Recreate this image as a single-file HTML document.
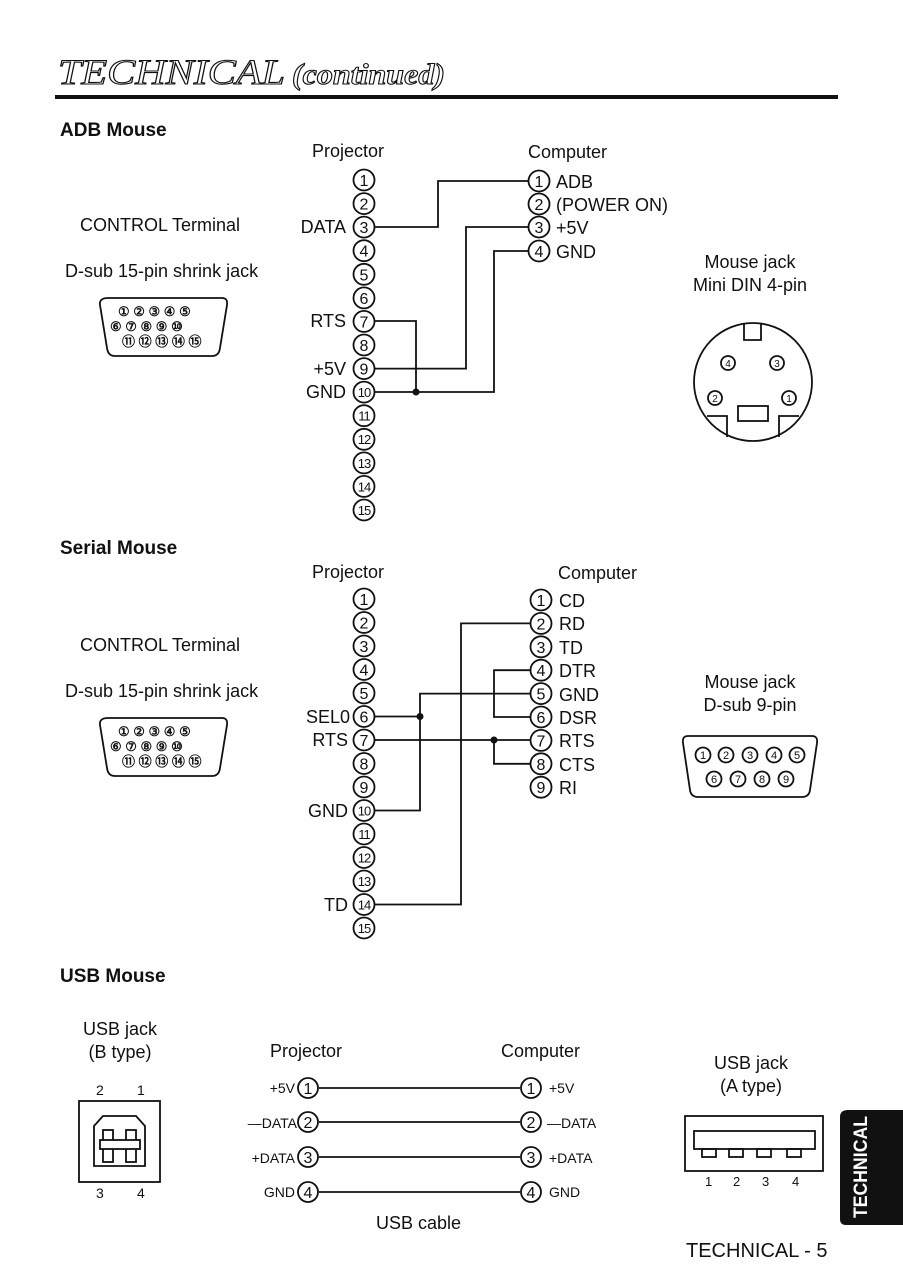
<!DOCTYPE html>
<html><head><meta charset="utf-8"><style>
html,body{margin:0;padding:0;background:#fff;}
svg{display:block;}
text{font-family:"Liberation Sans",sans-serif;fill:#111;}
.n{font-size:16px;text-anchor:middle;}
.n2{font-size:13px;text-anchor:middle;letter-spacing:-1px;}
.l{font-size:18px;}
.h{font-size:19px;font-weight:bold;}
.c{fill:#fff;stroke:#111;stroke-width:1.8;}
.w{fill:none;stroke:#111;stroke-width:1.8;}
.s{font-size:14px;}
.p{font-size:13px;font-weight:bold;}
</style></head><body>
<svg width="903" height="1280" viewBox="0 0 903 1280" xmlns="http://www.w3.org/2000/svg">
<text x="58" y="84" textLength="227" lengthAdjust="spacingAndGlyphs" style="font-family:'Liberation Serif',serif;font-style:italic;font-size:36px;fill:#fff;stroke:#111;stroke-width:1.1">TECHNICAL</text>
<text x="292" y="84" textLength="153" lengthAdjust="spacingAndGlyphs" style="font-family:'Liberation Serif',serif;font-style:italic;font-weight:bold;font-size:30px;fill:#fff;stroke:#111;stroke-width:1.1">(continued)</text>
<rect x="55" y="95" width="783" height="4" fill="#111"/>

<!-- ADB -->
<text class="h" x="60" y="136">ADB Mouse</text>
<text class="l" x="312" y="157">Projector</text>
<text class="l" x="528" y="158">Computer</text>
<text class="l" x="80" y="231">CONTROL Terminal</text>
<text class="l" x="65" y="277">D-sub 15-pin shrink jack</text>
<path class="w" d="M108,298 H222 Q228,298 227,305 L220,348 Q219,356 212,356 H115 Q108,356 107,348 L100,305 Q99,298 108,298 Z"/>
<g class="p">
<text x="118" y="316">① ② ③ ④ ⑤</text><text x="110" y="331">⑥ ⑦ ⑧ ⑨ ⑩</text><text x="122" y="346">⑪ ⑫ ⑬ ⑭ ⑮</text></g>

<g class="w">
<path d="M375,227 H438 V181 H528"/>
<path d="M375,368.6 H466 V227 H528"/>
<path d="M375,392 H494 V251 H528"/>
<path d="M375,321 H416 V392"/>
</g>
<circle cx="416" cy="392" r="3.5" fill="#111"/>
<g>
<circle class="c" cx="364" cy="180" r="10.5"/><text class="n" x="364" y="186">1</text>
<circle class="c" cx="364" cy="203.6" r="10.5"/><text class="n" x="364" y="209.6">2</text>
<circle class="c" cx="364" cy="227.1" r="10.5"/><text class="n" x="364" y="233.1">3</text>
<circle class="c" cx="364" cy="250.7" r="10.5"/><text class="n" x="364" y="256.7">4</text>
<circle class="c" cx="364" cy="274.3" r="10.5"/><text class="n" x="364" y="280.3">5</text>
<circle class="c" cx="364" cy="297.9" r="10.5"/><text class="n" x="364" y="303.9">6</text>
<circle class="c" cx="364" cy="321.4" r="10.5"/><text class="n" x="364" y="327.4">7</text>
<circle class="c" cx="364" cy="345" r="10.5"/><text class="n" x="364" y="351">8</text>
<circle class="c" cx="364" cy="368.6" r="10.5"/><text class="n" x="364" y="374.6">9</text>
<circle class="c" cx="364" cy="392.1" r="10.5"/><text class="n2" x="364" y="397">10</text>
<circle class="c" cx="364" cy="415.7" r="10.5"/><text class="n2" x="364" y="420.6">11</text>
<circle class="c" cx="364" cy="439.3" r="10.5"/><text class="n2" x="364" y="444.2">12</text>
<circle class="c" cx="364" cy="462.9" r="10.5"/><text class="n2" x="364" y="467.8">13</text>
<circle class="c" cx="364" cy="486.4" r="10.5"/><text class="n2" x="364" y="491.3">14</text>
<circle class="c" cx="364" cy="510" r="10.5"/><text class="n2" x="364" y="514.9">15</text>
</g>
<text class="l" x="346" y="233" text-anchor="end">DATA</text>
<text class="l" x="346" y="327" text-anchor="end">RTS</text>
<text class="l" x="346" y="375" text-anchor="end">+5V</text>
<text class="l" x="346" y="398" text-anchor="end">GND</text>
<circle class="c" cx="539" cy="181" r="10.5"/><text class="n" x="539" y="187">1</text>
<circle class="c" cx="539" cy="204" r="10.5"/><text class="n" x="539" y="210">2</text>
<circle class="c" cx="539" cy="227" r="10.5"/><text class="n" x="539" y="233">3</text>
<circle class="c" cx="539" cy="251" r="10.5"/><text class="n" x="539" y="257">4</text>
<text class="l" x="556" y="188">ADB</text>
<text class="l" x="556" y="211">(POWER ON)</text>
<text class="l" x="556" y="234">+5V</text>
<text class="l" x="556" y="258">GND</text>
<text class="l" x="750" y="268" text-anchor="middle">Mouse jack</text>
<text class="l" x="750" y="291" text-anchor="middle">Mini DIN 4-pin</text>
<circle class="w" cx="753" cy="382" r="59"/>
<path class="w" d="M744,324 V340 H761 V324"/>
<path class="w" d="M707,416 H727 V437 M799,416 H779 V437"/>
<rect class="w" x="738" y="406" width="30" height="15"/>
<circle class="w" cx="728" cy="363" r="7"/><text x="728" y="367" font-size="10" text-anchor="middle">4</text>
<circle class="w" cx="777" cy="363" r="7"/><text x="777" y="367" font-size="10" text-anchor="middle">3</text>
<circle class="w" cx="715" cy="398" r="7"/><text x="715" y="402" font-size="10" text-anchor="middle">2</text>
<circle class="w" cx="789" cy="398" r="7"/><text x="789" y="402" font-size="10" text-anchor="middle">1</text>

<!-- Serial -->
<text class="h" x="60" y="554">Serial Mouse</text>
<text class="l" x="312" y="578">Projector</text>
<text class="l" x="558" y="579">Computer</text>
<text class="l" x="80" y="651">CONTROL Terminal</text>
<text class="l" x="65" y="697">D-sub 15-pin shrink jack</text>
<path class="w" d="M108,718 H222 Q228,718 227,725 L220,768 Q219,776 212,776 H115 Q108,776 107,768 L100,725 Q99,718 108,718 Z"/>
<g class="p">
<text x="118" y="736">① ② ③ ④ ⑤</text><text x="110" y="751">⑥ ⑦ ⑧ ⑨ ⑩</text><text x="122" y="766">⑪ ⑫ ⑬ ⑭ ⑮</text></g>
<g class="w">
<path d="M375,904.5 H461 V623.4 H530"/>
<path d="M375,716.5 H420"/>
<path d="M375,810.5 H420 V693.6 H530"/>
<path d="M375,740 H530"/>
<path d="M494,740 V763.8 H530"/>
<path d="M530,670.2 H494 V717 H530"/>
</g>
<circle cx="420" cy="716.5" r="3.5" fill="#111"/>
<circle cx="494" cy="740" r="3.5" fill="#111"/>
<g>
<circle class="c" cx="364" cy="599" r="10.5"/><text class="n" x="364" y="605">1</text>
<circle class="c" cx="364" cy="622.5" r="10.5"/><text class="n" x="364" y="628.5">2</text>
<circle class="c" cx="364" cy="646" r="10.5"/><text class="n" x="364" y="652">3</text>
<circle class="c" cx="364" cy="669.5" r="10.5"/><text class="n" x="364" y="675.5">4</text>
<circle class="c" cx="364" cy="693" r="10.5"/><text class="n" x="364" y="699">5</text>
<circle class="c" cx="364" cy="716.5" r="10.5"/><text class="n" x="364" y="722.5">6</text>
<circle class="c" cx="364" cy="740" r="10.5"/><text class="n" x="364" y="746">7</text>
<circle class="c" cx="364" cy="763.5" r="10.5"/><text class="n" x="364" y="769.5">8</text>
<circle class="c" cx="364" cy="787" r="10.5"/><text class="n" x="364" y="793">9</text>
<circle class="c" cx="364" cy="810.5" r="10.5"/><text class="n2" x="364" y="815.4">10</text>
<circle class="c" cx="364" cy="834" r="10.5"/><text class="n2" x="364" y="838.9">11</text>
<circle class="c" cx="364" cy="857.5" r="10.5"/><text class="n2" x="364" y="862.4">12</text>
<circle class="c" cx="364" cy="881" r="10.5"/><text class="n2" x="364" y="885.9">13</text>
<circle class="c" cx="364" cy="904.5" r="10.5"/><text class="n2" x="364" y="909.4">14</text>
<circle class="c" cx="364" cy="928" r="10.5"/><text class="n2" x="364" y="932.9">15</text>
</g>
<text class="l" x="350" y="723" text-anchor="end">SEL0</text>
<text class="l" x="348" y="746" text-anchor="end">RTS</text>
<text class="l" x="348" y="817" text-anchor="end">GND</text>
<text class="l" x="348" y="911" text-anchor="end">TD</text>
<g>
<circle class="c" cx="541" cy="600" r="10.5"/><text class="n" x="541" y="606">1</text>
<circle class="c" cx="541" cy="623.4" r="10.5"/><text class="n" x="541" y="629.4">2</text>
<circle class="c" cx="541" cy="646.8" r="10.5"/><text class="n" x="541" y="652.8">3</text>
<circle class="c" cx="541" cy="670.2" r="10.5"/><text class="n" x="541" y="676.2">4</text>
<circle class="c" cx="541" cy="693.6" r="10.5"/><text class="n" x="541" y="699.6">5</text>
<circle class="c" cx="541" cy="717" r="10.5"/><text class="n" x="541" y="723">6</text>
<circle class="c" cx="541" cy="740.4" r="10.5"/><text class="n" x="541" y="746.4">7</text>
<circle class="c" cx="541" cy="763.8" r="10.5"/><text class="n" x="541" y="769.8">8</text>
<circle class="c" cx="541" cy="787.2" r="10.5"/><text class="n" x="541" y="793.2">9</text>
</g>
<text class="l" x="559" y="607">CD</text>
<text class="l" x="559" y="630">RD</text>
<text class="l" x="559" y="654">TD</text>
<text class="l" x="559" y="677">DTR</text>
<text class="l" x="559" y="701">GND</text>
<text class="l" x="559" y="724">DSR</text>
<text class="l" x="559" y="747">RTS</text>
<text class="l" x="559" y="771">CTS</text>
<text class="l" x="559" y="794">RI</text>
<text class="l" x="750" y="688" text-anchor="middle">Mouse jack</text>
<text class="l" x="750" y="711" text-anchor="middle">D-sub 9-pin</text>
<path class="w" d="M688,736 H812 Q818,736 817,743 L810,790 Q809,797 802,797 H698 Q691,797 690,790 L683,743 Q682,736 688,736 Z"/>
<g class="w">
<circle cx="703" cy="755" r="7.5"/><circle cx="726" cy="755" r="7.5"/><circle cx="750" cy="755" r="7.5"/><circle cx="774" cy="755" r="7.5"/><circle cx="797" cy="755" r="7.5"/>
<circle cx="714" cy="779" r="7.5"/><circle cx="738" cy="779" r="7.5"/><circle cx="762" cy="779" r="7.5"/><circle cx="786" cy="779" r="7.5"/>
</g>
<g font-size="11" text-anchor="middle">
<text x="703" y="759">1</text><text x="726" y="759">2</text><text x="750" y="759">3</text><text x="774" y="759">4</text><text x="797" y="759">5</text>
<text x="714" y="783">6</text><text x="738" y="783">7</text><text x="762" y="783">8</text><text x="786" y="783">9</text></g>

<!-- USB -->
<text class="h" x="60" y="982">USB Mouse</text>
<text class="l" x="120" y="1035" text-anchor="middle">USB jack</text>
<text class="l" x="120" y="1058" text-anchor="middle">(B type)</text>
<text class="s" x="96" y="1095">2</text><text class="s" x="137" y="1095">1</text>
<text class="s" x="96" y="1198">3</text><text class="s" x="137" y="1198">4</text>
<rect class="w" x="79" y="1101" width="81" height="81"/>
<path class="w" d="M94,1166 V1126 L103,1116 H136 L145,1126 V1166 Z"/>
<rect class="w" x="103" y="1130" width="10" height="32"/><rect class="w" x="126" y="1130" width="10" height="32"/>
<rect class="w" x="100" y="1140" width="40" height="9" style="fill:#fff"/>
<text class="l" x="270" y="1057">Projector</text>
<text class="l" x="501" y="1057">Computer</text>
<g class="w">
<path d="M319,1088 H520 M319,1122 H520 M319,1157 H520 M319,1192 H520"/></g>
<circle class="c" cx="308" cy="1088" r="10"/><text class="n" x="308" y="1094">1</text>
<circle class="c" cx="308" cy="1122" r="10"/><text class="n" x="308" y="1128">2</text>
<circle class="c" cx="308" cy="1157" r="10"/><text class="n" x="308" y="1163">3</text>
<circle class="c" cx="308" cy="1192" r="10"/><text class="n" x="308" y="1198">4</text>
<circle class="c" cx="531" cy="1088" r="10"/><text class="n" x="531" y="1094">1</text>
<circle class="c" cx="531" cy="1122" r="10"/><text class="n" x="531" y="1128">2</text>
<circle class="c" cx="531" cy="1157" r="10"/><text class="n" x="531" y="1163">3</text>
<circle class="c" cx="531" cy="1192" r="10"/><text class="n" x="531" y="1198">4</text>
<g class="s">
<text x="295" y="1093" text-anchor="end">+5V</text>
<text x="297" y="1128" text-anchor="end">—DATA</text>
<text x="295" y="1163" text-anchor="end">+DATA</text>
<text x="295" y="1197" text-anchor="end">GND</text>
<text x="549" y="1093">+5V</text>
<text x="547" y="1128">—DATA</text>
<text x="549" y="1163">+DATA</text>
<text x="549" y="1197">GND</text>
</g>
<text class="l" x="376" y="1229">USB cable</text>
<text class="l" x="751" y="1069" text-anchor="middle">USB jack</text>
<text class="l" x="751" y="1092" text-anchor="middle">(A type)</text>
<rect class="w" x="685" y="1116" width="138" height="55"/>
<rect class="w" x="694" y="1131" width="121" height="18"/>
<g class="w"><rect x="702" y="1149" width="14" height="8"/><rect x="729" y="1149" width="14" height="8"/><rect x="757" y="1149" width="14" height="8"/><rect x="787" y="1149" width="14" height="8"/></g>
<g font-size="13"><text x="705" y="1186">1</text><text x="733" y="1186">2</text><text x="762" y="1186">3</text><text x="792" y="1186">4</text></g>
<path d="M848,1110 H903 V1225 H846 Q840,1225 840,1219 V1117 Q840,1110 848,1110 Z" fill="#111"/>
<text x="0" y="0" transform="translate(867,1218) rotate(-90)" textLength="102" lengthAdjust="spacingAndGlyphs" style="fill:#fff;font-weight:bold;font-size:19px">TECHNICAL</text>
<text x="686" y="1257" style="font-size:20px">TECHNICAL - 5</text>
</svg>
</body></html>
